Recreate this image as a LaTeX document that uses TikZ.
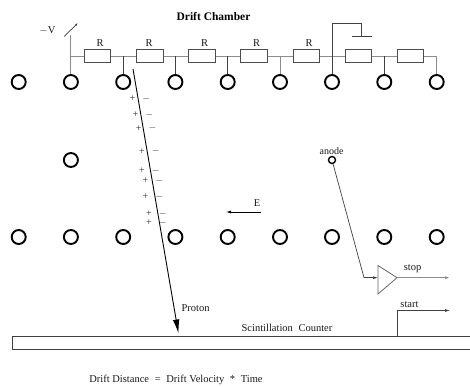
\documentclass[tikz,border=0pt]{standalone}
\usepackage{fontspec}
\setmainfont{Liberation Serif}
\usetikzlibrary{arrows.meta}
\tikzset{
  wire/.style={draw=black!45,line width=0.9pt},
  thin wire/.style={draw=black!75,line width=0.7pt},
  res/.style={draw=black!70,line width=0.7pt,fill=white,minimum width=26.5pt,minimum height=13pt,inner sep=0pt},
  wirering/.style={circle,draw=black,line width=1.9pt,minimum size=14pt,inner sep=0pt,fill=white},
  lab/.style={inner sep=0pt,font=\fontsize{10.5}{12}\selectfont,text=black!90},
  chg/.style={inner sep=0pt,font=\fontsize{10}{11}\selectfont,text=black!85},
  tip/.style={-{Latex[length=5pt,width=3pt]}}
}
\begin{document}
\begin{tikzpicture}[x=1pt,y=-1pt]
\useasboundingbox (0,0) rectangle (470,387);
% top row rings
\foreach \n/\x in {1/18.7,2/70.9,3/123.2,4/175.4,5/227.7,6/280,7/332,8/384.3,9/436.7}{
  \node[wirering] (t\n) at (\x,82) {};
  \node[wirering] (b\n) at (\x,237) {};
}
\node[wirering] (m) at (70.9,160) {};
% bus
\coordinate (busL) at (70.9,56);
\coordinate (busR) at (436.7,56);
\draw[wire] (t2.north) -- (busL) -- (busR) -- (t9.north);
\coordinate (vtop) at (70.9,35);
\draw[wire] (busL) -- (vtop);
\foreach \n/\w in {3/thin wire,4/thin wire,5/thin wire,6/wire,8/thin wire}{
  \coordinate (j\n) at (t\n |- busL);
  \draw[\w] (j\n) -- (t\n.north);
}
% resistors
\node[res] (r1) at (97.3,56) {};
\node[res] (r2) at (149.7,56) {};
\node[res] (r3) at (201.8,56) {};
\node[res] (r4) at (253.8,56) {};
\node[res] (r5) at (306.2,56) {};
\node[res] (r6) at (358.5,56) {};
\node[res] (r7) at (410.5,56) {};
\foreach \n/\x in {1/100,2/149,3/204.7,4/256.7,5/309}{
  \node[lab] (rl\n) at (\x,43) {R};
}
% -V
\node[lab] (mv) at (47.5,30.5) {$-$V};
\coordinate (va) at (64,36.5);
\coordinate (vb) at (78,23);
\draw[thin wire,-{Latex[length=3pt,width=2pt]}] (va) -- (vb);
% ground
\coordinate (g1) at (332,23.5);
\coordinate (g2) at (361.7,23.5);
\coordinate (g3) at (361.7,36.5);
\coordinate (gl) at (351.5,36.5);
\coordinate (gr) at (372,36.5);
\draw[thin wire] (t7.north) -- (g1) -- (g2) -- (g3);
\draw[thin wire] (gl) -- (gr);
% title
\node[inner sep=0pt,font=\fontsize{11.5}{13}\selectfont\bfseries] (title) at (213.5,17) {Drift Chamber};
% track
\coordinate (trA) at (133,69);
\coordinate (trB) at (178.5,333.5);
\draw[black,line width=0.9pt,-{Latex[length=14pt,width=6.5pt]}] (trA) -- (trB);
\foreach \n/\x/\y in {1/132.5/99,2/135.5/115,3/138.7/128.3,4/142/151.5,5/142/171,6/145.5/181,7/145.5/197,8/149/213.5,9/149/223}{
  \node[chg] (p\n) at (\x,\y) {+};
  \node[chg] (q\n) at (\x+13.7,\y) {$-$};
}
\node[lab] (proton) at (195.5,308) {Proton};
% E field
\coordinate (ea) at (261,212);
\coordinate (eb) at (226,212);
\draw[thin wire,tip,draw=black] (ea) -- (eb);
\node[lab] (E) at (257,203) {E};
% anode
\node[circle,draw=black,line width=1.4pt,minimum size=7pt,inner sep=0pt] (an) at (332,160) {};
\node[lab,font=\fontsize{10}{11}\selectfont] (anl) at (331.5,151.5) {anode};
% amplifier
\coordinate (a1) at (378,265.5);
\coordinate (a2) at (378,294);
\coordinate (a3) at (397,277.7);
\draw[draw=black!60,line width=0.8pt] (a1) -- (a2) -- (a3) -- cycle;
\coordinate (bend) at (364,277.7);
\draw[thin wire] (an) -- (bend);
\draw[thin wire,tip] (bend) -- (a1 |- bend);
\coordinate (stopE) at (450,277.7);
\draw[wire,tip] (a3) -- (stopE);
\node[lab] (stop) at (412.5,269) {stop};
% counter
\coordinate (c1) at (12.5,336.3);
\coordinate (c2) at (470,336.3);
\coordinate (c3) at (470,349.5);
\coordinate (c4) at (12.5,349.5);
\draw[thin wire] (c2) -- (c1) -- (c4) -- (c3);
\node[lab] (scint) at (287,327.5) {Scintillation\hspace{3pt} Counter};
% start
\coordinate (s0) at (397.3,336.3);
\coordinate (s1) at (397.3,310.5);
\coordinate (s2) at (450,310.5);
\draw[thin wire,tip] (s0) -- (s1) -- (s2);
\node[lab] (start) at (409.5,305) {start};
% formula
\node[lab] (formula) at (176,379.5) {Drift Distance\hspace{3pt} =\hspace{3pt} Drift Velocity\hspace{3pt} *\hspace{3pt} Time};
\end{tikzpicture}
\end{document}
